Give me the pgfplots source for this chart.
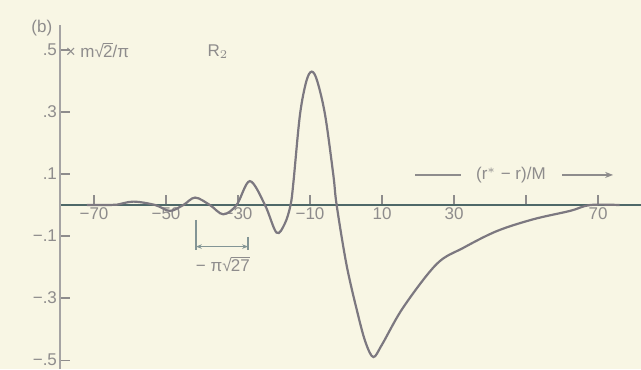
\documentclass[border=0pt]{standalone}
\usepackage{pgfplots}
\pgfplotsset{compat=1.18}
\usepackage{fontspec}
\setmainfont{Liberation Sans}
\usetikzlibrary{backgrounds,arrows.meta}

\definecolor{paper}{HTML}{F8F6E4}
\definecolor{ink}{HTML}{7C7880}
\definecolor{axisink}{HTML}{4E6868}
\definecolor{lettering}{HTML}{8E8C8C}

% square root drawn with the text font
\newcommand{\tsqrt}[1]{√\kern-0.05em$\overline{\hbox{#1}}$}

\pgfplotstableread{
x      y
-72    0
-66    0
-63.7  0.001
-59    0.011
-53    0
-48.9  -0.019
-45.2  0
-41.9  0.024
-37.8  0
-34.1  -0.030
-30.4  0
-26.7  0.077
-22.5  0
-19.3  -0.089
-17.0  -0.060
-15.4  0
-14.6  0.074
-12.8  0.290
-11.0  0.400
-9.5   0.430
-8.0   0.400
-5.8   0.290
-3.5   0.095
-2.6   0
0.2    -0.196
3.4    -0.357
5.5    -0.445
7.6    -0.490
10.0   -0.450
15.9   -0.330
25.2   -0.190
32.6   -0.138
41.9   -0.084
52.0   -0.046
62.2   -0.019
67.8   0
76     0
}\Rtwo

\begin{document}
\begin{tikzpicture}
\begin{axis}[
  scale only axis,
  width=290.5pt, height=172pt,
  xmin=-79.44, xmax=81.94,
  ymin=-0.529, ymax=0.58,
  axis x line=middle, axis y line=left,
  x axis line style={draw=axisink, line width=1.1pt, -},
  y axis line style={draw=lettering!80, line width=0.8pt, -},
  clip=false,
  font=\fontsize{8.5}{10}\selectfont,
  /pgf/number format/assume math mode=true,
  xtick={-70,-50,-30,-10,10,30,50,70},
  xticklabels={−70,−50,−30,−10,10,30,,70},
  ytick={-0.5,-0.3,-0.1,0.1,0.3,0.5},
  yticklabels={−.5,−.3,−.1,.1,.3,.5},
  tick align=inside,
  major tick length=5pt,
  tick style={draw=lettering, line width=0.6pt},
  x tick label style={text=lettering, yshift=2pt},
  y tick label style={text=lettering, xshift=2pt},
]
\coordinate (tl) at (axis cs:-96.11,0.661);
\coordinate (br) at (axis cs:81.94,-0.529);

\addplot[ink, line width=1.1pt, smooth, tension=0.55] table[x=x,y=y] {\Rtwo};

% axis annotations
\node[anchor=west, text=lettering, inner sep=1pt] at (axis cs:-78.5,0.5)
  {× m\tsqrt{2}/π};
\node[text=lettering] at (axis cs:-35.6,0.494) {R$_2$};
\node[text=lettering] at (axis cs:-84.5,0.57) {(b)};

% direction of the tortoise coordinate
\draw[lettering, line width=0.6pt] (axis cs:19.2,0.097) -- (axis cs:32,0.097);
\draw[lettering, line width=0.6pt, -{Stealth[length=4pt]}] (axis cs:60,0.097) -- (axis cs:74.2,0.097);
\node[text=lettering] at (axis cs:45.8,0.097) {(r$^{*}$ − r)/M};

% period marker
\draw[axisink!70, line width=0.7pt] (axis cs:-41.7,-0.048) -- (axis cs:-41.7,-0.145);
\draw[axisink!70, line width=0.7pt] (axis cs:-27.2,-0.103) -- (axis cs:-27.2,-0.145);
\draw[axisink!70, line width=0.7pt, {Stealth[length=3pt]}-{Stealth[length=3pt]}]
  (axis cs:-41.7,-0.134) -- (axis cs:-27.2,-0.134);
\node[text=lettering] at (axis cs:-34.2,-0.19) {− π\tsqrt{27}};
\end{axis}
\begin{scope}[on background layer]
  \fill[paper] (tl) rectangle (br);
\end{scope}
\pgfresetboundingbox
\path[use as bounding box] (tl) rectangle (br);
\end{tikzpicture}
\end{document}
